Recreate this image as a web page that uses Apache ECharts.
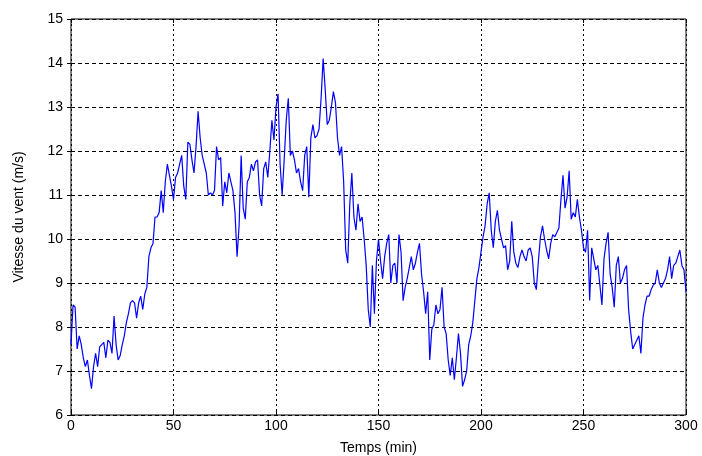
<!DOCTYPE html>
<html><head><meta charset="utf-8">
<script src="https://cdn.jsdelivr.net/npm/echarts@6/dist/echarts.min.js"></script>
<style>html,body{margin:0;padding:0;background:#fff}#c{width:702px;height:456px}</style>
</head><body><div id="c"></div>
<script>
// time in minutes (one sample per minute)
const timeStartMin = 0;
const timeStepMin = 1;
// wind speed, m/s
const windSpeed = [
7.6,8.5,8.45,7.5,7.8,7.6,7.3,7.1,7.25,6.9,
6.6,7.1,7.4,7.1,7.55,7.6,7.65,7.3,7.7,7.65,
7.4,8.25,7.6,7.25,7.35,7.6,7.8,8.1,8.3,8.55,
8.6,8.55,8.2,8.55,8.7,8.4,8.75,8.9,9.6,9.8,
9.9,10.5,10.5,10.6,11.1,10.6,11.3,11.7,11.45,11.2,
10.9,11.4,11.5,11.7,11.9,11.2,10.9,12.2,12.15,11.8,
11.5,12.1,12.9,12.3,11.9,11.7,11.5,11.0,11.05,11.0,
11.1,12.1,11.8,11.85,10.75,11.3,11.05,11.5,11.3,11.1,
10.6,9.6,10.3,11.9,10.7,10.45,11.3,11.4,11.7,11.55,
11.75,11.8,11.0,10.75,11.6,11.75,11.4,12.0,12.7,12.25,
13.0,13.3,11.7,11.0,11.8,12.7,13.2,11.9,12.0,11.8,
11.5,11.6,11.3,11.1,11.9,12.1,10.95,12.3,12.6,12.3,
12.35,12.5,13.2,14.1,13.4,12.6,12.7,13.0,13.35,13.1,
12.3,11.9,12.1,11.3,9.75,9.45,10.8,11.5,10.5,10.2,
10.8,10.4,10.5,10.0,9.4,8.4,8.0,9.4,8.3,9.5,
10.0,9.5,9.1,9.6,9.9,10.1,9.0,9.4,9.45,9.0,
10.1,9.7,8.6,8.9,9.1,9.35,9.6,9.3,9.45,9.7,
9.9,9.2,8.8,8.3,8.8,7.25,7.95,8.05,8.5,8.3,
8.4,8.9,8.0,7.85,7.25,6.9,7.3,6.8,7.3,7.85,
7.4,6.65,6.8,7.0,7.6,7.8,8.1,8.6,9.1,9.35,
9.7,10.05,10.3,10.8,11.05,10.2,9.8,10.4,10.65,10.2,
10.0,9.8,9.85,9.3,9.5,10.4,9.7,9.45,9.35,9.6,
9.75,9.6,9.5,9.75,9.8,9.6,9.0,8.85,9.5,10.05,
10.3,10.0,9.75,9.55,9.9,10.1,10.05,10.15,10.25,10.9,
11.45,10.7,10.95,11.55,10.45,10.6,10.5,10.9,10.5,10.2,
9.8,9.7,10.2,8.6,9.8,9.55,9.3,9.4,8.95,8.5,
9.55,9.9,10.15,9.2,8.9,8.45,9.4,9.6,9.0,9.1,
9.3,9.4,8.4,7.9,7.5,7.6,7.7,7.8,7.4,8.2,
8.5,8.7,8.7,8.85,8.95,9.0,9.3,9.0,8.9,9.0,
9.1,9.3,9.6,9.1,9.4,9.45,9.6,9.75,9.4,9.3,
8.8
];
const xTicks = [0,50,100,150,200,250,300];
const yTicks = [6,7,8,9,10,11,12,13,14,15];
const xTitle = 'Temps (min)';
const yTitle = 'Vitesse du vent (m/s)';

const seriesData = windSpeed.map((v,i)=>[timeStartMin + i*timeStepMin, v]);
const font = 'Liberation Sans, Arial, sans-serif';
const chart = echarts.init(document.getElementById('c'), null, {renderer:'canvas'});
const xMin = xTicks[0], xMax = xTicks[xTicks.length-1];
const yMin = yTicks[0], yMax = yTicks[yTicks.length-1];
chart.setOption({
  animation:false,
  backgroundColor:'#fff',
  grid:{left:71,right:16,top:19,bottom:41,show:true,borderColor:'#000',borderWidth:1,backgroundColor:'transparent',containLabel:false,outerBoundsMode:'none'},
  xAxis:[{
    type:'value',min:xMin,max:xMax,interval:50,
    name:xTitle,nameLocation:'middle',nameGap:26,
    nameTextStyle:{color:'#000',fontSize:14,fontFamily:font},
    axisLine:{show:false},
    axisTick:{show:true,inside:true,length:4,lineStyle:{color:'#000'}},
    axisLabel:{color:'#000',fontSize:14,fontFamily:font,margin:4},
    splitLine:{show:true,lineStyle:{color:'#000',type:[2,3],width:1}}
  },{
    type:'value',position:'top',min:xMin,max:xMax,interval:50,
    axisLine:{show:false},axisLabel:{show:false},
    axisTick:{show:true,inside:true,length:4,lineStyle:{color:'#000'}},
    splitLine:{show:false}
  }],
  yAxis:[{
    type:'value',min:yMin,max:yMax,interval:1,
    name:yTitle,nameLocation:'middle',nameGap:45,nameRotate:90,
    nameTextStyle:{color:'#000',fontSize:14,fontFamily:font},
    axisLine:{show:false},
    axisTick:{show:true,inside:true,length:4,lineStyle:{color:'#000'}},
    axisLabel:{color:'#000',fontSize:14,fontFamily:font,margin:8},
    splitLine:{show:true,lineStyle:{color:'#000',type:[4,3],width:1}}
  },{
    type:'value',position:'right',min:yMin,max:yMax,interval:1,
    axisLine:{show:false},axisLabel:{show:false},
    axisTick:{show:true,inside:true,length:4,lineStyle:{color:'#000'}},
    splitLine:{show:false}
  }],
  series:[{
    type:'line',data:seriesData,xAxisIndex:0,yAxisIndex:0,
    showSymbol:false,symbol:'none',
    lineStyle:{color:'#0000ff',width:1.2},
    z:5
  }]
});
</script></body></html>
